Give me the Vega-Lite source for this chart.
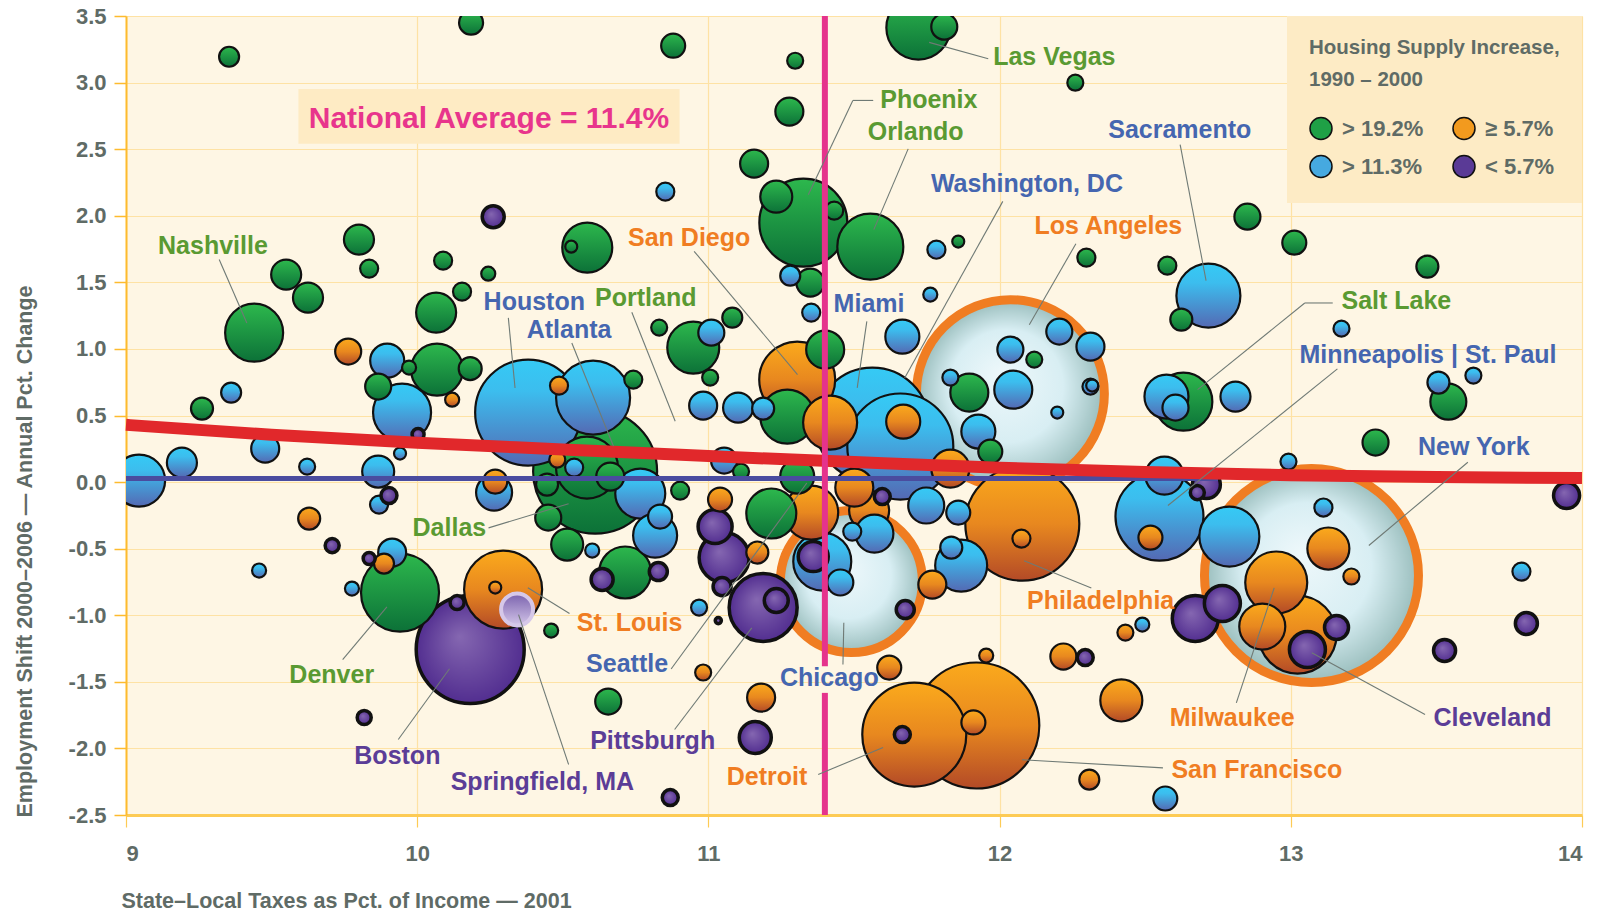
{
  "$schema": "https://vega.github.io/schema/vega-lite/v6.json",
  "width": 1456,
  "height": 799,
  "autosize": {"type": "none"},
  "padding": {"left": 126, "top": 16, "right": 20, "bottom": 99},
  "background": "#FFFFFF",
  "config": {
    "view": {"fill": "#FEF6E4", "stroke": null},
    "locale": {"number": {"decimal": ".", "thousands": ",", "grouping": [3], "currency": ["$", ""], "minus": "-"}}
  },
  "encoding": {
    "x": {
      "field": "x", "type": "quantitative",
      "scale": {"domain": [9, 14], "nice": false, "zero": false},
      "axis": {
        "title": "State–Local Taxes as Pct. of Income — 2001",
        "values": [9, 10, 11, 12, 13, 14], "format": "d",
        "grid": true, "gridColor": "#FEE2A4", "gridWidth": 1.2,
        "domainColor": "#FDCB55", "domainWidth": 3,
        "tickColor": "#FDCB55", "tickSize": 12, "tickWidth": 1.2,
        "labelFont": "Liberation Sans", "labelFontWeight": "bold", "labelFontSize": 22, "labelColor": "#5F6B66", "labelPadding": 16,
        "titleFont": "Liberation Sans", "titleFontWeight": "bold", "titleFontSize": 21.5, "titleColor": "#5F6B66",
        "titleAnchor": "start", "titleAlign": "left", "titleBaseline": "alphabetic", "titleX": -5, "titleY": 92
      }
    },
    "y": {
      "field": "y", "type": "quantitative",
      "scale": {"domain": [-2.5, 3.5], "nice": false, "zero": false},
      "axis": {
        "title": "Employment Shift 2000–2006 — Annual Pct. Change",
        "values": [-2.5, -2, -1.5, -1, -0.5, 0, 0.5, 1, 1.5, 2, 2.5, 3, 3.5], "format": ".1f",
        "grid": true, "gridColor": "#FEE2A4", "gridWidth": 1.2,
        "domainColor": "#FDBB2E", "domainWidth": 2,
        "tickColor": "#FDBB2E", "tickSize": 12, "tickWidth": 1.5,
        "labelFont": "Liberation Sans", "labelFontWeight": "bold", "labelFontSize": 22, "labelColor": "#5F6B66", "labelPadding": 8,
        "titleFont": "Liberation Sans", "titleFontWeight": "bold", "titleFontSize": 21.5, "titleColor": "#5F6B66",
        "titleAngle": 270, "titleAlign": "left", "titleBaseline": "alphabetic", "titleX": -95, "titleY": 801
      }
    }
  },
  "layer": [
    {
      "data": {"values": [{"x": 9.592, "x2": 10.901, "y": 2.952, "y2": 2.541}]},
      "mark": {"type": "rect", "color": "#FEEBC4"},
      "encoding": {"x2": {"field": "x2"}, "y2": {"field": "y2"}}
    },
    {
      "data": {"values": [
        {"x":9.354,"y":3.194,"pop":150,"cat":"g"},{"x":9.44,"y":1.122,"pop":1262,"cat":"g"},{"x":9.55,"y":1.558,"pop":338,"cat":"g"},
        {"x":9.625,"y":1.385,"pop":338,"cat":"g"},{"x":9.8,"y":1.821,"pop":338,"cat":"g"},{"x":9.835,"y":1.603,"pop":122,"cat":"g"},
        {"x":9.763,"y":0.98,"pop":254,"cat":"o"},{"x":9.897,"y":0.912,"pop":434,"cat":"b"},{"x":9.972,"y":0.86,"pop":74,"cat":"g"},
        {"x":9.866,"y":0.717,"pop":254,"cat":"g"},{"x":9.948,"y":0.522,"pop":1262,"cat":"b"},{"x":9.261,"y":0.552,"pop":182,"cat":"g"},
        {"x":9.361,"y":0.672,"pop":150,"cat":"b"},{"x":9.478,"y":0.251,"pop":294,"cat":"b"},{"x":9.045,"y":0.011,"pop":1014,"cat":"b"},
        {"x":9.192,"y":0.146,"pop":338,"cat":"b"},{"x":9.622,"y":0.116,"pop":96,"cat":"b"},{"x":9.866,"y":0.079,"pop":384,"cat":"b"},
        {"x":9.941,"y":0.214,"pop":54,"cat":"b"},{"x":9.903,"y":-0.101,"pop":96,"cat":"p"},{"x":9.869,"y":-0.169,"pop":122,"cat":"b"},
        {"x":9.629,"y":-0.274,"pop":182,"cat":"o"},{"x":9.708,"y":-0.477,"pop":74,"cat":"p"},{"x":9.457,"y":-0.664,"pop":74,"cat":"b"},
        {"x":9.835,"y":-0.574,"pop":54,"cat":"p"},{"x":9.886,"y":-0.612,"pop":150,"cat":"o"},{"x":9.914,"y":-0.529,"pop":294,"cat":"b"},
        {"x":9.776,"y":-0.8,"pop":74,"cat":"b"},{"x":9.941,"y":-0.83,"pop":2282,"cat":"g"},{"x":9.818,"y":-1.768,"pop":74,"cat":"p"},
        {"x":10.003,"y":0.357,"pop":54,"cat":"p"},{"x":10.185,"y":3.45,"pop":216,"cat":"g"},{"x":10.261,"y":1.993,"pop":182,"cat":"p"},
        {"x":10.584,"y":1.761,"pop":938,"cat":"g"},{"x":10.529,"y":1.768,"pop":54,"cat":"g"},{"x":10.089,"y":1.663,"pop":122,"cat":"g"},
        {"x":10.244,"y":1.565,"pop":74,"cat":"g"},{"x":10.154,"y":1.43,"pop":122,"cat":"g"},{"x":10.065,"y":1.273,"pop":600,"cat":"g"},
        {"x":10.068,"y":0.845,"pop":1014,"cat":"g"},{"x":10.182,"y":0.852,"pop":198,"cat":"g"},{"x":10.12,"y":0.619,"pop":74,"cat":"o"},
        {"x":10.381,"y":0.522,"pop":4214,"cat":"b"},{"x":10.487,"y":0.724,"pop":122,"cat":"o"},{"x":10.604,"y":0.634,"pop":2054,"cat":"b"},
        {"x":10.742,"y":0.77,"pop":122,"cat":"g"},{"x":10.264,"y":-0.079,"pop":486,"cat":"b"},{"x":10.268,"y":0.004,"pop":216,"cat":"o"},
        {"x":10.611,"y":0.079,"pop":5766,"cat":"g"},{"x":10.583,"y":0.109,"pop":1442,"cat":"g"},{"x":10.515,"y":-0.469,"pop":384,"cat":"g"},
        {"x":10.714,"y":-0.679,"pop":1014,"cat":"g"},{"x":10.817,"y":-0.402,"pop":726,"cat":"b"},{"x":10.834,"y":-0.259,"pop":216,"cat":"b"},
        {"x":10.766,"y":-0.086,"pop":938,"cat":"b"},{"x":10.45,"y":-0.267,"pop":254,"cat":"g"},{"x":10.903,"y":-0.064,"pop":122,"cat":"g"},
        {"x":10.601,"y":-0.514,"pop":74,"cat":"b"},{"x":10.635,"y":-0.732,"pop":182,"cat":"p"},{"x":10.828,"y":-0.672,"pop":122,"cat":"p"},
        {"x":10.182,"y":-1.257,"pop":4374,"cat":"p"},{"x":10.295,"y":-0.807,"pop":2282,"cat":"o"},{"x":10.268,"y":-0.792,"pop":54,"cat":"o"},
        {"x":10.137,"y":-0.905,"pop":74,"cat":"p"},{"x":10.343,"y":-0.957,"pop":384,"cat":"s"},{"x":10.46,"y":-1.115,"pop":74,"cat":"g"},
        {"x":10.656,"y":-1.648,"pop":254,"cat":"g"},{"x":10.968,"y":-0.942,"pop":96,"cat":"b"},{"x":11.034,"y":-1.04,"pop":14,"cat":"p"},
        {"x":10.982,"y":-1.43,"pop":96,"cat":"o"},{"x":10.869,"y":-2.369,"pop":96,"cat":"p"},{"x":10.831,"y":1.16,"pop":96,"cat":"g"},
        {"x":10.948,"y":1.01,"pop":1014,"cat":"g"},{"x":11.01,"y":1.122,"pop":254,"cat":"b"},{"x":11.082,"y":1.235,"pop":150,"cat":"g"},
        {"x":11.006,"y":0.785,"pop":96,"cat":"g"},{"x":10.982,"y":0.574,"pop":294,"cat":"b"},{"x":11.102,"y":0.559,"pop":338,"cat":"b"},
        {"x":11.188,"y":0.552,"pop":182,"cat":"b"},{"x":11.401,"y":0.995,"pop":542,"cat":"g"},{"x":11.353,"y":1.273,"pop":122,"cat":"b"},
        {"x":11.054,"y":0.161,"pop":254,"cat":"b"},{"x":11.112,"y":0.079,"pop":96,"cat":"g"},{"x":10.539,"y":0.109,"pop":122,"cat":"b"},
        {"x":10.481,"y":0.169,"pop":96,"cat":"o"},{"x":10.446,"y":-0.019,"pop":182,"cat":"g"},{"x":10.663,"y":0.041,"pop":294,"cat":"g"},
        {"x":11.305,"y":0.041,"pop":434,"cat":"g"},{"x":11.216,"y":-0.236,"pop":938,"cat":"g"},{"x":11.353,"y":-0.229,"pop":1094,"cat":"o"},
        {"x":11.04,"y":-0.131,"pop":216,"cat":"o"},{"x":11.023,"y":-0.334,"pop":434,"cat":"p"},{"x":11.054,"y":-0.567,"pop":938,"cat":"p"},
        {"x":10.879,"y":3.277,"pop":216,"cat":"g"},{"x":11.298,"y":3.164,"pop":96,"cat":"g"},{"x":11.278,"y":2.782,"pop":294,"cat":"g"},
        {"x":11.157,"y":2.391,"pop":294,"cat":"g"},{"x":10.852,"y":2.181,"pop":122,"cat":"b"},{"x":11.326,"y":1.948,"pop":2904,"cat":"g"},
        {"x":11.233,"y":2.143,"pop":384,"cat":"g"},{"x":11.432,"y":2.038,"pop":122,"cat":"g"},{"x":11.556,"y":1.768,"pop":1634,"cat":"g"},
        {"x":11.721,"y":3.412,"pop":1536,"cat":"g"},{"x":11.81,"y":3.42,"pop":254,"cat":"g"},{"x":12.26,"y":2.999,"pop":96,"cat":"g"},
        {"x":11.281,"y":1.55,"pop":150,"cat":"b"},{"x":11.35,"y":1.498,"pop":294,"cat":"g"},{"x":11.783,"y":1.745,"pop":122,"cat":"b"},
        {"x":11.858,"y":1.806,"pop":54,"cat":"g"},{"x":11.762,"y":1.408,"pop":74,"cat":"b"},{"x":11.666,"y":1.092,"pop":434,"cat":"b"},
        {"x":12.298,"y":1.685,"pop":122,"cat":"g"},{"x":11.831,"y":0.785,"pop":96,"cat":"b"},{"x":12.037,"y":0.995,"pop":254,"cat":"b"},
        {"x":12.119,"y":0.92,"pop":96,"cat":"g"},{"x":12.205,"y":1.13,"pop":254,"cat":"b"},{"x":11.896,"y":0.672,"pop":542,"cat":"g"},
        {"x":12.047,"y":0.694,"pop":542,"cat":"b"},{"x":12.312,"y":1.017,"pop":294,"cat":"b"},{"x":12.312,"y":0.717,"pop":96,"cat":"b"},
        {"x":12.318,"y":0.725,"pop":54,"cat":"b"},{"x":11.271,"y":0.492,"pop":1094,"cat":"g"},{"x":11.305,"y":0.77,"pop":2166,"cat":"o"},
        {"x":11.418,"y":0.447,"pop":1094,"cat":"o"},{"x":11.669,"y":0.454,"pop":434,"cat":"o"},{"x":11.563,"y":0.432,"pop":4874,"cat":"b"},
        {"x":11.659,"y":0.267,"pop":4214,"cat":"b"},{"x":12.037,"y":0.664,"pop":13254,"cat":"h"},{"x":11.491,"y":-0.747,"pop":7562,"cat":"h"},
        {"x":13.071,"y":-0.702,"pop":17174,"cat":"h"},{"x":12.078,"y":-0.312,"pop":4874,"cat":"o"},{"x":12.075,"y":-0.424,"pop":122,"cat":"o"},
        {"x":11.707,"y":-1.896,"pop":4056,"cat":"o"},{"x":11.666,"y":-1.896,"pop":96,"cat":"p"},{"x":11.92,"y":-1.828,"pop":5954,"cat":"o"},
        {"x":11.91,"y":-1.805,"pop":216,"cat":"o"},{"x":11.954,"y":-1.303,"pop":74,"cat":"o"},{"x":11.621,"y":-1.393,"pop":216,"cat":"o"},
        {"x":11.181,"y":-1.618,"pop":294,"cat":"o"},{"x":11.161,"y":-1.918,"pop":384,"cat":"p"},{"x":11.188,"y":-0.942,"pop":1734,"cat":"p"},
        {"x":11.233,"y":-0.89,"pop":216,"cat":"p"},{"x":11.047,"y":-0.785,"pop":122,"cat":"p"},{"x":11.168,"y":-0.529,"pop":182,"cat":"o"},
        {"x":11.36,"y":-0.559,"pop":338,"cat":"p"},{"x":11.453,"y":-0.754,"pop":254,"cat":"b"},{"x":11.391,"y":-0.597,"pop":1262,"cat":"b"},
        {"x":11.494,"y":-0.372,"pop":122,"cat":"b"},{"x":11.57,"y":-0.387,"pop":542,"cat":"b"},{"x":11.552,"y":-0.214,"pop":600,"cat":"o"},
        {"x":11.501,"y":-0.041,"pop":542,"cat":"o"},{"x":11.597,"y":-0.109,"pop":96,"cat":"p"},{"x":11.676,"y":-0.957,"pop":122,"cat":"p"},
        {"x":11.769,"y":-0.77,"pop":294,"cat":"o"},{"x":11.748,"y":-0.176,"pop":486,"cat":"b"},{"x":11.858,"y":-0.229,"pop":216,"cat":"b"},
        {"x":11.834,"y":-0.492,"pop":182,"cat":"b"},{"x":11.868,"y":-0.627,"pop":1014,"cat":"b"},{"x":11.831,"y":0.101,"pop":542,"cat":"o"},
        {"x":11.927,"y":0.379,"pop":434,"cat":"b"},{"x":11.968,"y":0.229,"pop":216,"cat":"g"},{"x":12.198,"y":0.522,"pop":54,"cat":"b"},
        {"x":12.851,"y":1.993,"pop":254,"cat":"g"},{"x":13.012,"y":1.798,"pop":216,"cat":"g"},{"x":12.576,"y":1.625,"pop":122,"cat":"g"},
        {"x":13.469,"y":1.618,"pop":182,"cat":"g"},{"x":12.717,"y":1.4,"pop":1536,"cat":"b"},{"x":12.624,"y":1.22,"pop":182,"cat":"g"},
        {"x":12.631,"y":0.604,"pop":1262,"cat":"g"},{"x":12.573,"y":0.642,"pop":726,"cat":"b"},{"x":12.604,"y":0.559,"pop":254,"cat":"b"},
        {"x":12.81,"y":0.642,"pop":338,"cat":"b"},{"x":13.174,"y":1.152,"pop":96,"cat":"b"},{"x":13.507,"y":0.747,"pop":182,"cat":"b"},
        {"x":13.541,"y":0.604,"pop":486,"cat":"g"},{"x":13.627,"y":0.8,"pop":96,"cat":"b"},{"x":13.291,"y":0.297,"pop":254,"cat":"g"},
        {"x":12.992,"y":0.154,"pop":96,"cat":"b"},{"x":12.549,"y":-0.259,"pop":2904,"cat":"b"},{"x":12.566,"y":0.049,"pop":542,"cat":"b"},
        {"x":12.518,"y":-0.417,"pop":216,"cat":"o"},{"x":12.71,"y":-0.019,"pop":294,"cat":"p"},{"x":12.679,"y":-0.079,"pop":74,"cat":"p"},
        {"x":12.789,"y":-0.409,"pop":1350,"cat":"b"},{"x":13.112,"y":-0.191,"pop":122,"cat":"b"},{"x":13.129,"y":-0.499,"pop":662,"cat":"o"},
        {"x":13.208,"y":-0.709,"pop":96,"cat":"o"},{"x":12.95,"y":-0.754,"pop":1442,"cat":"o"},{"x":13.023,"y":-1.145,"pop":2282,"cat":"o"},
        {"x":12.902,"y":-1.085,"pop":794,"cat":"o"},{"x":13.057,"y":-1.257,"pop":486,"cat":"p"},{"x":13.157,"y":-1.092,"pop":216,"cat":"p"},
        {"x":12.765,"y":-0.912,"pop":486,"cat":"p"},{"x":12.672,"y":-1.025,"pop":794,"cat":"p"},{"x":12.432,"y":-1.13,"pop":96,"cat":"o"},
        {"x":12.49,"y":-1.07,"pop":74,"cat":"b"},{"x":12.219,"y":-1.31,"pop":254,"cat":"o"},{"x":12.294,"y":-1.318,"pop":96,"cat":"p"},
        {"x":12.418,"y":-1.64,"pop":662,"cat":"o"},{"x":12.308,"y":-2.234,"pop":150,"cat":"o"},{"x":12.569,"y":-2.376,"pop":216,"cat":"b"},
        {"x":13.792,"y":-0.672,"pop":122,"cat":"b"},{"x":13.947,"y":-0.101,"pop":254,"cat":"p"},{"x":13.809,"y":-1.062,"pop":182,"cat":"p"},
        {"x":13.528,"y":-1.265,"pop":182,"cat":"p"}
      ]},
      "mark": {"type": "point", "shape": "circle", "filled": true, "opacity": 1, "clip": true},
      "encoding": {
        "fill": {
          "condition": [
            {"test": "datum.cat === 'g'", "value": {"gradient": "linear", "x1": 0, "y1": 0, "x2": 0, "y2": 1, "stops": [{"offset": 0, "color": "#2DB84D"}, {"offset": 1, "color": "#0C7138"}]}},
            {"test": "datum.cat === 'o'", "value": {"gradient": "linear", "x1": 0, "y1": 0, "x2": 0, "y2": 1, "stops": [{"offset": 0, "color": "#FBAA1C"}, {"offset": 0.5, "color": "#E8881F"}, {"offset": 1, "color": "#B34A27"}]}},
            {"test": "datum.cat === 'b'", "value": {"gradient": "linear", "x1": 0, "y1": 0, "x2": 0, "y2": 1, "stops": [{"offset": 0, "color": "#35CAF5"}, {"offset": 0.3, "color": "#3CBDEE"}, {"offset": 1, "color": "#5469B3"}]}},
            {"test": "datum.cat === 'h'", "value": {"gradient": "radial", "x1": 0.45, "y1": 0.4, "r1": 0, "x2": 0.5, "y2": 0.5, "r2": 0.5, "stops": [{"offset": 0, "color": "#EEF8FB"}, {"offset": 0.6, "color": "#D8EEF3"}, {"offset": 1, "color": "#99BDBC"}]}},
            {"test": "datum.cat === 's'", "value": {"gradient": "linear", "x1": 0, "y1": 0, "x2": 0, "y2": 1, "stops": [{"offset": 0, "color": "#7A62AE"}, {"offset": 1, "color": "#D3C5E8"}]}}
          ],
          "value": {"gradient": "radial", "x1": 0.4, "y1": 0.38, "r1": 0, "x2": 0.5, "y2": 0.5, "r2": 0.5, "stops": [{"offset": 0, "color": "#8567B1"}, {"offset": 1, "color": "#522E90"}]}
        },
        "size": {"field": "pop", "type": "quantitative", "scale": {"domain": [0, 18000], "range": [0, 48000]}, "legend": null},
        "stroke": {"condition": [{"test": "datum.cat === 'h'", "value": "#F07D22"}, {"test": "datum.cat === 's'", "value": "#D6C8E8"}], "value": "#111111"},
        "strokeWidth": {"condition": [{"test": "datum.cat === 'h'", "value": 9}, {"test": "datum.cat === 'p'", "value": 3.5}, {"test": "datum.cat === 's'", "value": 4}], "value": 2.2},
        "order": {"field": "pop", "type": "quantitative", "sort": "descending"}
      }
    },
    {
      "data": {"values": []},
      "mark": {"type": "point", "shape": "circle", "filled": true, "opacity": 1},
      "encoding": {
        "fill": {
          "field": "cat", "type": "nominal",
          "scale": {"domain": ["g", "b", "o", "p"], "range": ["#1FA046", "#46A9E0", "#F29A1E", "#5A3A96"]},
          "legend": {
            "orient": "top-right", "offset": 0, "fillColor": "#FDEBC5", "padding": 22,
            "columns": 2, "columnPadding": 26, "rowPadding": 10,
            "title": ["Housing Supply Increase,", "1990 – 2000"],
            "titleFont": "Liberation Sans", "titleFontWeight": "bold", "titleFontSize": 20.5, "titleColor": "#5F6B66", "titleLineHeight": 32, "titlePadding": 26, "titleLimit": 400,
            "labelFont": "Liberation Sans", "labelFontWeight": "bold", "labelFontSize": 22, "labelColor": "#5F6B66", "labelOffset": 9,
            "symbolSize": 484, "symbolType": "circle", "symbolStrokeColor": "#111111", "symbolStrokeWidth": 1.5, "symbolOpacity": 1,
            "labelExpr": "datum.label == 'g' ? '> 19.2%' : datum.label == 'o' ? '≥ 5.7%' : datum.label == 'b' ? '> 11.3%' : '< 5.7%'",
            "encode": {"symbols": {"update": {
              "fill": [
                {"test": "datum.value === 'g'", "value": {"gradient": "linear", "x1": 0, "y1": 0, "x2": 0, "y2": 1, "stops": [{"offset": 0, "color": "#2DB84D"}, {"offset": 1, "color": "#0C7138"}]}},
                {"test": "datum.value === 'o'", "value": {"gradient": "linear", "x1": 0, "y1": 0, "x2": 0, "y2": 1, "stops": [{"offset": 0, "color": "#FBAA1C"}, {"offset": 1, "color": "#B34A27"}]}},
                {"test": "datum.value === 'b'", "value": {"gradient": "linear", "x1": 0, "y1": 0, "x2": 0, "y2": 1, "stops": [{"offset": 0, "color": "#35CAF5"}, {"offset": 1, "color": "#5469B3"}]}},
                {"value": "#5A3A96"}
              ],
              "stroke": {"value": "#111111"}, "strokeWidth": {"value": 1.5}, "opacity": {"value": 1}}}}
          }
        }
      }
    },
    {
      "data": {"values": [{"x": 9, "x2": 12.75, "y": 0.027}]},
      "mark": {"type": "rule", "color": "#4A4C9F", "strokeWidth": 5},
      "encoding": {"x2": {"field": "x2"}}
    },
    {
      "data": {"values": [
        {"x": 9, "y": 0.43}, {"x": 9.5, "y": 0.355}, {"x": 10, "y": 0.295}, {"x": 10.5, "y": 0.245},
        {"x": 11, "y": 0.195}, {"x": 11.5, "y": 0.15}, {"x": 12, "y": 0.108}, {"x": 12.5, "y": 0.075},
        {"x": 13, "y": 0.052}, {"x": 13.5, "y": 0.038}, {"x": 14, "y": 0.03}
      ]},
      "mark": {"type": "line", "color": "#E1282B", "strokeWidth": 12, "interpolate": "monotone", "strokeCap": "butt"}
    },
    {
      "data": {"values": [{"x": 11.4, "y": 3.5, "y2": -1.383}, {"x": 11.4, "y": -1.583, "y2": -2.5}]},
      "mark": {"type": "rule", "color": "#E5338C", "strokeWidth": 6},
      "encoding": {"y2": {"field": "y2"}}
    },
    {
      "data": {"values": [
        {"x": 9.32, "y": 1.672, "x2": 9.415, "y2": 1.195},
        {"x": 10.313, "y": 1.233, "x2": 10.336, "y2": 0.707},
        {"x": 10.531, "y": 1.045, "x2": 10.674, "y2": 0.269},
        {"x": 10.737, "y": 1.275, "x2": 10.886, "y2": 0.457},
        {"x": 10.951, "y": 1.733, "x2": 11.306, "y2": 0.807},
        {"x": 11.496, "y": 2.866, "x2": 11.566, "y2": 2.866},
        {"x": 11.496, "y": 2.866, "x2": 11.343, "y2": 2.158},
        {"x": 11.686, "y": 2.502, "x2": 11.568, "y2": 1.896},
        {"x": 11.961, "y": 3.179, "x2": 11.758, "y2": 3.302},
        {"x": 12.011, "y": 2.108, "x2": 11.674, "y2": 0.782},
        {"x": 12.262, "y": 1.79, "x2": 12.102, "y2": 1.182},
        {"x": 12.62, "y": 2.534, "x2": 12.709, "y2": 1.513},
        {"x": 11.544, "y": 1.207, "x2": 11.511, "y2": 0.707},
        {"x": 13.144, "y": 1.345, "x2": 13.048, "y2": 1.345},
        {"x": 13.048, "y": 1.345, "x2": 12.68, "y2": 0.694},
        {"x": 13.16, "y": 0.85, "x2": 12.578, "y2": -0.176},
        {"x": 13.608, "y": 0.149, "x2": 13.268, "y2": -0.476},
        {"x": 12.315, "y": -0.796, "x2": 12.084, "y2": -0.59},
        {"x": 12.813, "y": -1.658, "x2": 12.943, "y2": -0.794},
        {"x": 13.461, "y": -1.745, "x2": 13.072, "y2": -1.282},
        {"x": 12.561, "y": -2.146, "x2": 12.077, "y2": -2.085},
        {"x": 11.377, "y": -2.196, "x2": 11.6, "y2": -1.993},
        {"x": 11.462, "y": -1.37, "x2": 11.465, "y2": -1.057},
        {"x": 10.872, "y": -1.404, "x2": 11.338, "y2": -0.007},
        {"x": 10.884, "y": -1.858, "x2": 11.149, "y2": -1.095},
        {"x": 10.523, "y": -0.987, "x2": 10.38, "y2": -0.794},
        {"x": 10.245, "y": -0.344, "x2": 10.52, "y2": -0.162},
        {"x": 9.744, "y": -1.333, "x2": 9.896, "y2": -0.937},
        {"x": 9.935, "y": -1.933, "x2": 10.111, "y2": -1.402},
        {"x": 10.52, "y": -2.121, "x2": 10.348, "y2": -0.995}
      ]},
      "mark": {"type": "rule", "color": "#6F7A75", "strokeWidth": 1.1},
      "encoding": {"x2": {"field": "x2"}, "y2": {"field": "y2"}}
    },
    {
      "data": {"values": [
        {"x": 9.11, "y": 1.715, "t": "Nashville", "c": "g"},
        {"x": 10.228, "y": 1.295, "t": "Houston", "c": "b"},
        {"x": 10.376, "y": 1.083, "t": "Atlanta", "c": "b"},
        {"x": 10.611, "y": 1.325, "t": "Portland", "c": "g"},
        {"x": 10.724, "y": 1.776, "t": "San Diego", "c": "o"},
        {"x": 11.59, "y": 2.809, "t": "Phoenix", "c": "g"},
        {"x": 11.547, "y": 2.571, "t": "Orlando", "c": "g"},
        {"x": 11.978, "y": 3.134, "t": "Las Vegas", "c": "g"},
        {"x": 11.764, "y": 2.176, "t": "Washington, DC", "c": "b"},
        {"x": 12.12, "y": 1.862, "t": "Los Angeles", "c": "o"},
        {"x": 12.373, "y": 2.587, "t": "Sacramento", "c": "b"},
        {"x": 11.43, "y": 1.275, "t": "Miami", "c": "b"},
        {"x": 13.174, "y": 1.3, "t": "Salt Lake", "c": "g"},
        {"x": 13.03, "y": 0.895, "t": "Minneapolis | St. Paul", "c": "b"},
        {"x": 13.437, "y": 0.206, "t": "New York", "c": "b"},
        {"x": 12.094, "y": -0.95, "t": "Philadelphia", "c": "o"},
        {"x": 12.584, "y": -1.828, "t": "Milwaukee", "c": "o"},
        {"x": 13.49, "y": -1.833, "t": "Cleveland", "c": "p"},
        {"x": 12.59, "y": -2.221, "t": "San Francisco", "c": "o"},
        {"x": 11.063, "y": -2.271, "t": "Detroit", "c": "o"},
        {"x": 11.246, "y": -1.53, "t": "Chicago", "c": "b"},
        {"x": 10.58, "y": -1.428, "t": "Seattle", "c": "b"},
        {"x": 10.594, "y": -2.003, "t": "Pittsburgh", "c": "p"},
        {"x": 10.548, "y": -1.115, "t": "St. Louis", "c": "o"},
        {"x": 9.984, "y": -0.402, "t": "Dallas", "c": "g"},
        {"x": 9.561, "y": -1.507, "t": "Denver", "c": "g"},
        {"x": 9.784, "y": -2.116, "t": "Boston", "c": "p"},
        {"x": 10.115, "y": -2.316, "t": "Springfield, MA", "c": "p"}
      ]},
      "mark": {"type": "text", "align": "left", "baseline": "alphabetic", "font": "Liberation Sans", "fontWeight": "bold", "fontSize": 25},
      "encoding": {
        "text": {"field": "t"},
        "color": {"field": "c", "type": "nominal", "scale": {"domain": ["g", "b", "o", "p"], "range": ["#5A9A32", "#4566B0", "#F07D22", "#5B3D97"]}, "legend": null}
      }
    },
    {
      "data": {"values": [{"x": 10.2465, "y": 2.659, "t": "National Average = 11.4%"}]},
      "mark": {"type": "text", "align": "center", "baseline": "alphabetic", "font": "Liberation Sans", "fontWeight": "bold", "fontSize": 30, "color": "#E8358C"},
      "encoding": {"text": {"field": "t"}}
    }
  ]
}
